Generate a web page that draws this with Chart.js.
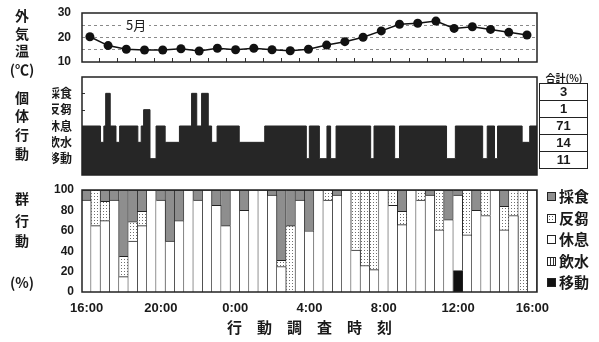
<!DOCTYPE html>
<html>
<head>
<meta charset="utf-8">
<script src="https://cdn.jsdelivr.net/npm/chart.js@4.4.1/dist/chart.umd.min.js"></script>
<style>
  body { margin: 0; background: #fff; }
  #wrap { position: relative; width: 599px; height: 342px; overflow: hidden;
          font-family: "Noto Sans CJK JP", sans-serif; color: #1a1a1a; }
  canvas { position: absolute; left: 0; }
  .lbl { position: absolute; font-weight: bold; line-height: 1; white-space: nowrap;
         transform: translate(-50%, -50%); font-size: 14px; }
  #month { position: absolute; left: 123px; top: 18px; font-size: 13px; line-height: 14px;
           background: #fff; padding: 0 3px; }
  #sumTable { position: absolute; left: 539px; top: 83px; border-collapse: collapse; }
  #sumTable td { border: 1px solid #222; width: 47px; height: 16px; padding: 0; text-align: center;
                 font: bold 13px "Liberation Sans", sans-serif; line-height: 16px; }
  #legend { position: absolute; left: 547px; top: 187px; }
  .item { position: absolute; left: 0; height: 18px; white-space: nowrap;
          font-weight: bold; font-size: 15px; line-height: 18px; }
  .sw { display: inline-block; width: 7px; height: 7px; border: 1px solid #222;
        margin-right: 3px; vertical-align: 1px; }
</style>
</head>
<body>
<div id="wrap">
  <canvas id="tempChart" width="599" height="75" style="top:0"></canvas>
  <canvas id="actChart" width="599" height="105" style="top:75px"></canvas>
  <canvas id="groupChart" width="599" height="162" style="top:180px"></canvas>

  <div class="lbl" style="left:22px;top:15px">外</div>
  <div class="lbl" style="left:22px;top:33px">気</div>
  <div class="lbl" style="left:22px;top:50px">温</div>
  <div class="lbl" style="left:22px;top:69px">(℃)</div>
  <div id="month">5月</div>

  <div class="lbl" style="left:22px;top:97px">個</div>
  <div class="lbl" style="left:22px;top:115px">体</div>
  <div class="lbl" style="left:22px;top:134px">行</div>
  <div class="lbl" style="left:22px;top:153px">動</div>
  <div class="lbl" style="left:564px;top:78px;font-size:10px">合計(%)</div>
  <table id="sumTable"></table>

  <div class="lbl" style="left:22px;top:198px">群</div>
  <div class="lbl" style="left:22px;top:220px">行</div>
  <div class="lbl" style="left:22px;top:240px">動</div>
  <div class="lbl" style="left:22px;top:282px">(%)</div>
  <div id="legend"></div>
</div>
<script>
// 外気温 (℃), every hour from 16:00 to 16:00 next day
var tempValues = [20.3, 16.7, 15.2, 14.9, 14.9, 15.4, 14.5, 15.6, 15.0, 15.6, 15.0, 14.6,
                  15.2, 16.9, 18.3, 20.1, 22.7, 25.4, 25.8, 26.7, 23.7, 24.4, 23.3, 22.1, 21.0];

// 個体行動: minutes after 16:00 when the behaviour changes, and the new behaviour
var actStart = [-26, 35, 46, 52, 67, 86, 98, 158, 169, 177, 198, 218, 248, 295, 335, 352, 368,
                390, 401, 419, 492, 576, 713, 723, 756, 781, 793, 811, 925, 936, 1004, 1020,
                1175, 1204, 1294, 1309, 1333, 1343, 1424, 1449];
var actState = ['休息', '飲水', '休息', '採食', '休息', '飲水', '休息', '飲水', '休息', '反芻',
                '移動', '休息', '飲水', '休息', '採食', '休息', '採食', '休息', '飲水', '休息',
                '飲水', '休息', '移動', '休息', '移動', '休息', '移動', '休息', '移動', '休息',
                '移動', '休息', '移動', '休息', '移動', '休息', '移動', '休息', '飲水', '休息'];
var actEnd = 1473;
var actLevels = ['', '移動', '飲水', '休息', '反芻', '採食'];
var actTotals = [3, 1, 71, 14, 11];   // 採食, 反芻, 休息, 飲水, 移動

// 群行動 (%), every half hour from 16:00 to 16:00
var grpMove  = [0, 0, 0, 0, 0, 0, 0, 0, 0, 0, 0, 0, 0, 0, 0, 0, 0, 0, 0, 0, 0, 0, 0, 0, 0,
                0, 0, 0, 0, 0, 0, 0, 0, 0, 0, 0, 0, 0, 0, 0, 21, 0, 0, 0, 0, 0, 0, 0, 0];
var grpDrink = [0, 0, 0, 0, 0, 0, 0, 0, 0, 0, 0, 0, 0, 0, 0, 0, 0, 0, 0, 0, 0, 0, 0, 0, 0,
                0, 0, 0, 0, 0, 0, 0, 0, 0, 0, 0, 0, 0, 0, 0, 0, 0, 0, 0, 0, 0, 0, 0, 0];
var grpRest  = [90, 65, 70, 90, 15, 50, 65, 100, 90, 50, 70, 100, 90, 100, 85, 65, 100, 80, 100, 100,
                95, 25, 0, 90, 60, 100, 90, 95, 100, 41, 26, 22, 100, 85, 66, 100, 90, 95, 61, 71,
                74, 56, 80, 75, 100, 61, 75, 0, 100];
var grpRumi  = [0, 35, 19, 0, 20, 19, 14, 0, 0, 0, 0, 0, 0, 0, 0, 0, 0, 0, 0, 0,
                0, 6, 65, 0, 0, 0, 10, 0, 0, 59, 74, 78, 0, 15, 13, 0, 10, 0, 39, 0,
                0, 44, 0, 25, 0, 23, 25, 100, 0];
var grpFeed  = [10, 0, 11, 10, 65, 31, 21, 0, 10, 50, 30, 0, 10, 0, 15, 35, 0, 20, 0, 0,
                5, 69, 35, 10, 40, 0, 0, 5, 0, 0, 0, 0, 0, 0, 21, 0, 0, 5, 0, 29,
                5, 0, 20, 0, 0, 16, 0, 0, 0];
var timeTicks = ['16:00', '20:00', '0:00', '4:00', '8:00', '12:00', '16:00'];

Chart.defaults.font.family = '"Liberation Sans", "Noto Sans CJK JP", sans-serif';
Chart.defaults.color = '#1a1a1a';
Chart.defaults.animation = false;
Chart.defaults.events = [];

// fixed axis size, and no extra room for labels that hang over the plot edges
function fixAxis(size) {
    return function (s) {
        if (s.isHorizontal()) s.height = size; else s.width = size;
        s.paddingTop = 0; s.paddingBottom = 0; s.paddingLeft = 0; s.paddingRight = 0;
    };
}

// box around each plot area
var framePlugin = {
    id: 'frame',
    afterDatasetsDraw: function (chart) {
        var a = chart.chartArea, ctx = chart.ctx;
        ctx.save();
        ctx.strokeStyle = '#222';
        ctx.lineWidth = 1.5;
        ctx.strokeRect(a.left, a.top, a.right - a.left, a.bottom - a.top);
        ctx.restore();
    }
};
// short tick marks pointing into the plot
var innerTicks = {
    id: 'innerTicks',
    beforeDatasetsDraw: function (chart, args, opts) {
        if (!opts.values) return;
        var scale = chart.scales[opts.axis], a = chart.chartArea, ctx = chart.ctx;
        ctx.save();
        ctx.strokeStyle = '#333';
        ctx.lineWidth = 1;
        ctx.beginPath();
        opts.values.forEach(function (v) {
            var p = Math.round(scale.getPixelForValue(v)) + 0.5;
            if (scale.isHorizontal()) { ctx.moveTo(p, a.bottom); ctx.lineTo(p, a.bottom - opts.len); }
            else { ctx.moveTo(a.left, p); ctx.lineTo(a.left + opts.len, p); }
        });
        ctx.stroke();
        ctx.restore();
    }
};

// ---------- 外気温 ----------
var halfHours = [];
for (var h = 0; h < 24; h++) halfHours.push(h * 60 + 30);

var ctxTemp = document.getElementById('tempChart').getContext('2d');
var tempChart = new Chart(ctxTemp, {
    type: 'line',
    data: {
        datasets: [{
            data: tempValues.map(function (v, i) { return {x: i * 60, y: v}; }),
            borderColor: '#111',
            borderWidth: 1.5,
            pointRadius: 4.5,
            pointBackgroundColor: '#111',
            pointBorderWidth: 0,
            tension: 0
        }]
    },
    options: {
        responsive: false,
        layout: {padding: {left: 52, right: 62, top: 13, bottom: 13}},
        plugins: {
            legend: {display: false},
            tooltip: {enabled: false},
            innerTicks: {axis: 'x', values: halfHours, len: 4}
        },
        scales: {
            x: {type: 'linear', min: -26, max: 1473, display: false, afterFit: fixAxis(0)},
            y: {
                min: 10, max: 30,
                afterFit: fixAxis(30),
                ticks: {
                    stepSize: 5, padding: 11, autoSkip: false,
                    font: {size: 12, weight: 'bold'},
                    callback: function (v) { return v % 10 === 0 ? v : ''; }
                },
                grid: {
                    drawTicks: false,
                    color: function (c) {
                        var v = c.tick ? c.tick.value : 0;
                        return (v > 10 && v < 30) ? '#8a8a8a' : 'rgba(0,0,0,0)';
                    }
                },
                border: {display: false, dash: [3, 3]}
            }
        }
    },
    plugins: [framePlugin, innerTicks]
});

// ---------- 個体行動 ----------
var actPoints = actStart.map(function (t, i) { return {x: t, y: actLevels.indexOf(actState[i])}; });
actPoints.push({x: actEnd, y: actLevels.indexOf(actState[actState.length - 1])});

var ctxAct = document.getElementById('actChart').getContext('2d');
var actChart = new Chart(ctxAct, {
    type: 'line',
    data: {
        datasets: [{
            data: actPoints,
            stepped: true,
            fill: 'origin',
            backgroundColor: '#262626',
            borderColor: '#262626',
            borderWidth: 1,
            pointRadius: 0
        }]
    },
    options: {
        responsive: false,
        layout: {padding: {left: 52, right: 62, top: 2, bottom: 5}},
        plugins: {
            legend: {display: false},
            tooltip: {enabled: false},
            innerTicks: {axis: 'y', values: [1, 2, 3, 4, 5], len: 3}
        },
        scales: {
            x: {type: 'linear', min: -26, max: actEnd, display: false, afterFit: fixAxis(0)},
            y: {
                min: 0, max: 6,
                afterFit: fixAxis(30),
                ticks: {
                    stepSize: 1, padding: 10, autoSkip: false,
                    font: {family: '"Noto Sans CJK JP", sans-serif', size: 12, weight: 'bold'},
                    callback: function (v) { return actLevels[v] || ''; }
                },
                grid: {display: false, drawTicks: false},
                border: {display: false}
            }
        }
    },
    plugins: [framePlugin, innerTicks]
});

var table = document.getElementById('sumTable');
actTotals.forEach(function (v) {
    var tr = document.createElement('tr');
    var td = document.createElement('td');
    td.textContent = v;
    tr.appendChild(td);
    table.appendChild(tr);
});

// ---------- 群行動 ----------
function makePattern(w, h, draw) {
    var c = document.createElement('canvas');
    c.width = w; c.height = h;
    var g = c.getContext('2d');
    draw(g);
    return g.createPattern(c, 'repeat');
}
var dotFill = makePattern(3, 3, function (g) {
    g.fillStyle = '#fff'; g.fillRect(0, 0, 3, 3);
    g.fillStyle = '#6e6e6e'; g.fillRect(1, 1, 1, 1);
});
var stripeFill = makePattern(3, 1, function (g) {
    g.fillStyle = '#fff'; g.fillRect(0, 0, 3, 1);
    g.fillStyle = '#333'; g.fillRect(1, 0, 1, 1);
});

var slotLabels = [];
for (var i = 0; i < grpRest.length; i++) slotLabels.push(i % 8 === 0 ? timeTicks[i / 8] : '');

function nz(arr) { return arr.map(function (v) { return v === 0 ? null : v; }); }

var groupSets = [
    {label: '移動', data: nz(grpMove), backgroundColor: '#111', swatch: '#111'},
    {label: '飲水', data: nz(grpDrink), backgroundColor: stripeFill,
     swatch: 'repeating-linear-gradient(90deg,#fff 0 2px,#333 2px 3px)'},
    {label: '休息', data: nz(grpRest), backgroundColor: '#fff', swatch: '#fff'},
    {label: '反芻', data: nz(grpRumi), backgroundColor: dotFill,
     swatch: 'radial-gradient(#666 35%, transparent 40%) 0 0/3px 3px, #fff'},
    {label: '採食', data: nz(grpFeed), backgroundColor: '#8e8e8e', swatch: '#8e8e8e'}
];

var ctxGroup = document.getElementById('groupChart').getContext('2d');
var groupChart = new Chart(ctxGroup, {
    type: 'bar',
    data: {
        labels: slotLabels,
        datasets: groupSets.map(function (s) {
            return {
                label: s.label,
                data: s.data,
                backgroundColor: s.backgroundColor,
                borderColor: '#222',
                borderWidth: {top: 1, right: 1, bottom: 0, left: 0},
                borderSkipped: false,
                barPercentage: 1,
                categoryPercentage: 1
            };
        })
    },
    options: {
        responsive: false,
        layout: {padding: {left: 52, right: 62, top: 10, bottom: 0}},
        plugins: {legend: {display: false}, tooltip: {enabled: false}},
        scales: {
            x: {
                stacked: true,
                afterFit: fixAxis(50),
                grid: {display: false, drawTicks: false},
                border: {display: false},
                ticks: {autoSkip: false, maxRotation: 0, padding: 9, font: {size: 13, weight: 'bold'}},
                title: {
                    display: true,
                    text: '行　動　調　査　時　刻',
                    font: {family: '"Noto Sans CJK JP", sans-serif', size: 15, weight: 'bold'},
                    padding: {top: 0, bottom: 6}
                }
            },
            y: {
                stacked: true,
                min: 0, max: 100,
                afterFit: fixAxis(30),
                ticks: {stepSize: 20, padding: 8, font: {size: 12, weight: 'bold'}},
                grid: {display: false, drawTicks: false},
                border: {display: false}
            }
        }
    },
    plugins: [framePlugin]
});

var legend = document.getElementById('legend');
groupSets.slice().reverse().forEach(function (s, k) {
    var div = document.createElement('div');
    div.className = 'item';
    div.style.top = (k * 21.5) + 'px';
    var sw = document.createElement('span');
    sw.className = 'sw';
    sw.style.background = s.swatch;
    div.appendChild(sw);
    div.appendChild(document.createTextNode(s.label));
    legend.appendChild(div);
});
</script>
</body>
</html>
